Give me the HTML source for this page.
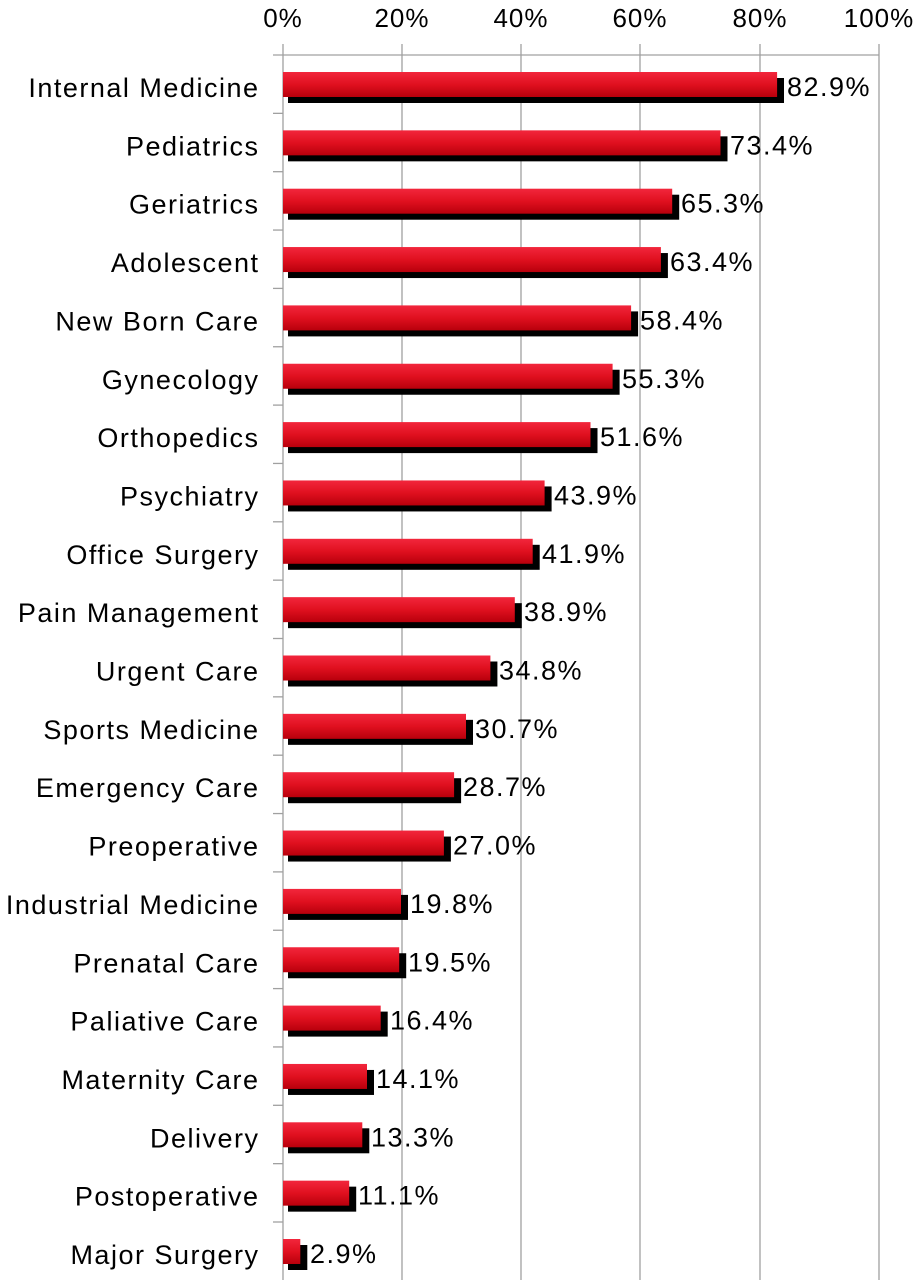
<!DOCTYPE html>
<html><head><meta charset="utf-8"><style>
html,body{margin:0;padding:0;background:#fff;}
svg{display:block;font-family:"Liberation Sans",sans-serif;}
</style></head><body>
<svg width="915" height="1280" viewBox="0 0 915 1280" xmlns="http://www.w3.org/2000/svg">
<defs>
<linearGradient id="rg" x1="0" y1="0" x2="0" y2="1">
<stop offset="0" stop-color="#f2263c"/><stop offset="0.5" stop-color="#e0101f"/><stop offset="1" stop-color="#b8000c"/>
</linearGradient>
</defs>
<g stroke="#a0a0a0" stroke-width="1.3">
<line x1="402" y1="44" x2="402" y2="1280"/>
<line x1="521" y1="44" x2="521" y2="1280"/>
<line x1="640" y1="44" x2="640" y2="1280"/>
<line x1="760" y1="44" x2="760" y2="1280"/>
<line x1="879" y1="44" x2="879" y2="1280"/>
<line x1="283" y1="44" x2="283" y2="1280"/>
<line x1="273" y1="55" x2="879" y2="55"/>
<line x1="273" y1="113.35" x2="283" y2="113.35"/><line x1="273" y1="171.7" x2="283" y2="171.7"/><line x1="273" y1="230.05" x2="283" y2="230.05"/><line x1="273" y1="288.4" x2="283" y2="288.4"/><line x1="273" y1="346.75" x2="283" y2="346.75"/><line x1="273" y1="405.1" x2="283" y2="405.1"/><line x1="273" y1="463.45" x2="283" y2="463.45"/><line x1="273" y1="521.8" x2="283" y2="521.8"/><line x1="273" y1="580.15" x2="283" y2="580.15"/><line x1="273" y1="638.5" x2="283" y2="638.5"/><line x1="273" y1="696.85" x2="283" y2="696.85"/><line x1="273" y1="755.2" x2="283" y2="755.2"/><line x1="273" y1="813.55" x2="283" y2="813.55"/><line x1="273" y1="871.9" x2="283" y2="871.9"/><line x1="273" y1="930.25" x2="283" y2="930.25"/><line x1="273" y1="988.6" x2="283" y2="988.6"/><line x1="273" y1="1046.95" x2="283" y2="1046.95"/><line x1="273" y1="1105.3" x2="283" y2="1105.3"/><line x1="273" y1="1163.65" x2="283" y2="1163.65"/><line x1="273" y1="1222" x2="283" y2="1222"/>
</g>
<g font-size="26" fill="#000" text-anchor="middle" letter-spacing="1">
<text x="283" y="27">0%</text><text x="402" y="27">20%</text><text x="521" y="27">40%</text><text x="640" y="27">60%</text><text x="760" y="27">80%</text><text x="879" y="27">100%</text>
</g>
<g font-size="27" fill="#000" letter-spacing="1.5">
<g transform="translate(0,72)"><rect x="288" y="6" width="496" height="25"/><rect x="283" y="0" width="494.1" height="25" fill="url(#rg)"/><text x="787" y="24">82.9%</text><text x="259.5" y="25" text-anchor="end">Internal Medicine</text></g>
<g transform="translate(0,130.35)"><rect x="288" y="6" width="439.5" height="25"/><rect x="283" y="0" width="437.5" height="25" fill="url(#rg)"/><text x="730" y="24">73.4%</text><text x="259.5" y="25" text-anchor="end">Pediatrics</text></g>
<g transform="translate(0,188.7)"><rect x="288" y="6" width="391.2" height="25"/><rect x="283" y="0" width="389.2" height="25" fill="url(#rg)"/><text x="681" y="24">65.3%</text><text x="259.5" y="25" text-anchor="end">Geriatrics</text></g>
<g transform="translate(0,247.05)"><rect x="288" y="6" width="379.9" height="25"/><rect x="283" y="0" width="377.9" height="25" fill="url(#rg)"/><text x="670" y="24">63.4%</text><text x="259.5" y="25" text-anchor="end">Adolescent</text></g>
<g transform="translate(0,305.4)"><rect x="288" y="6" width="350.1" height="25"/><rect x="283" y="0" width="348.1" height="25" fill="url(#rg)"/><text x="640" y="24">58.4%</text><text x="259.5" y="25" text-anchor="end">New Born Care</text></g>
<g transform="translate(0,363.75)"><rect x="288" y="6" width="331.6" height="25"/><rect x="283" y="0" width="329.6" height="25" fill="url(#rg)"/><text x="622" y="24">55.3%</text><text x="259.5" y="25" text-anchor="end">Gynecology</text></g>
<g transform="translate(0,422.1)"><rect x="288" y="6" width="309.5" height="25"/><rect x="283" y="0" width="307.5" height="25" fill="url(#rg)"/><text x="600" y="24">51.6%</text><text x="259.5" y="25" text-anchor="end">Orthopedics</text></g>
<g transform="translate(0,480.45)"><rect x="288" y="6" width="263.6" height="25"/><rect x="283" y="0" width="261.6" height="25" fill="url(#rg)"/><text x="554" y="24">43.9%</text><text x="259.5" y="25" text-anchor="end">Psychiatry</text></g>
<g transform="translate(0,538.8)"><rect x="288" y="6" width="251.7" height="25"/><rect x="283" y="0" width="249.7" height="25" fill="url(#rg)"/><text x="542" y="24">41.9%</text><text x="259.5" y="25" text-anchor="end">Office Surgery</text></g>
<g transform="translate(0,597.15)"><rect x="288" y="6" width="233.8" height="25"/><rect x="283" y="0" width="231.8" height="25" fill="url(#rg)"/><text x="524" y="24">38.9%</text><text x="259.5" y="25" text-anchor="end">Pain Management</text></g>
<g transform="translate(0,655.5)"><rect x="288" y="6" width="209.4" height="25"/><rect x="283" y="0" width="207.4" height="25" fill="url(#rg)"/><text x="499" y="24">34.8%</text><text x="259.5" y="25" text-anchor="end">Urgent Care</text></g>
<g transform="translate(0,713.85)"><rect x="288" y="6" width="185" height="25"/><rect x="283" y="0" width="183" height="25" fill="url(#rg)"/><text x="475" y="24">30.7%</text><text x="259.5" y="25" text-anchor="end">Sports Medicine</text></g>
<g transform="translate(0,772.2)"><rect x="288" y="6" width="173.1" height="25"/><rect x="283" y="0" width="171.1" height="25" fill="url(#rg)"/><text x="463" y="24">28.7%</text><text x="259.5" y="25" text-anchor="end">Emergency Care</text></g>
<g transform="translate(0,830.55)"><rect x="288" y="6" width="162.9" height="25"/><rect x="283" y="0" width="160.9" height="25" fill="url(#rg)"/><text x="453" y="24">27.0%</text><text x="259.5" y="25" text-anchor="end">Preoperative</text></g>
<g transform="translate(0,888.9)"><rect x="288" y="6" width="120" height="25"/><rect x="283" y="0" width="118" height="25" fill="url(#rg)"/><text x="410" y="24">19.8%</text><text x="259.5" y="25" text-anchor="end">Industrial Medicine</text></g>
<g transform="translate(0,947.25)"><rect x="288" y="6" width="118.2" height="25"/><rect x="283" y="0" width="116.2" height="25" fill="url(#rg)"/><text x="408" y="24">19.5%</text><text x="259.5" y="25" text-anchor="end">Prenatal Care</text></g>
<g transform="translate(0,1005.6)"><rect x="288" y="6" width="99.7" height="25"/><rect x="283" y="0" width="97.7" height="25" fill="url(#rg)"/><text x="390" y="24">16.4%</text><text x="259.5" y="25" text-anchor="end">Paliative Care</text></g>
<g transform="translate(0,1063.95)"><rect x="288" y="6" width="86" height="25"/><rect x="283" y="0" width="84" height="25" fill="url(#rg)"/><text x="376" y="24">14.1%</text><text x="259.5" y="25" text-anchor="end">Maternity Care</text></g>
<g transform="translate(0,1122.3)"><rect x="288" y="6" width="81.3" height="25"/><rect x="283" y="0" width="79.3" height="25" fill="url(#rg)"/><text x="371" y="24">13.3%</text><text x="259.5" y="25" text-anchor="end">Delivery</text></g>
<g transform="translate(0,1180.65)"><rect x="288" y="6" width="68.2" height="25"/><rect x="283" y="0" width="66.2" height="25" fill="url(#rg)"/><text x="358" y="24">11.1%</text><text x="259.5" y="25" text-anchor="end">Postoperative</text></g>
<g transform="translate(0,1239)"><rect x="288" y="6" width="19.3" height="25"/><rect x="283" y="0" width="17.3" height="25" fill="url(#rg)"/><text x="310" y="24">2.9%</text><text x="259.5" y="25" text-anchor="end">Major Surgery</text></g>
</g>
</svg>
</body></html>
